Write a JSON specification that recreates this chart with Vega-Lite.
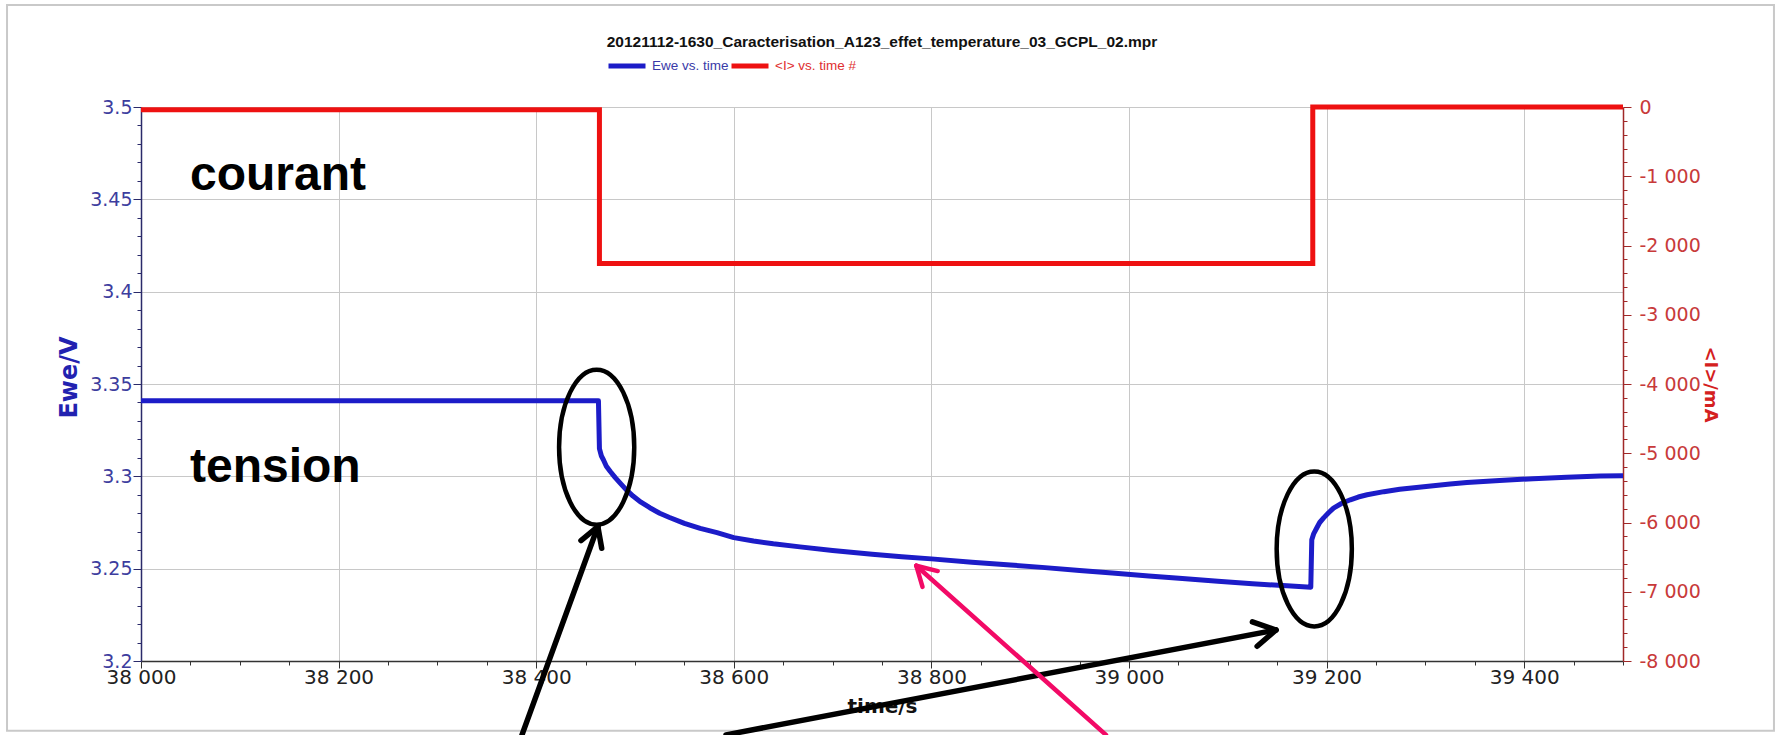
{
  "$schema": "https://vega.github.io/schema/vega-lite/v6.json",
  "autosize": "none",
  "width": 1482,
  "height": 554,
  "padding": {"left": 141, "top": 107, "right": 156, "bottom": 74},
  "background": "white",
  "title": {
    "text": "20121112-1630_Caracterisation_A123_effet_temperature_03_GCPL_02.mpr",
    "font": "Liberation Sans",
    "fontSize": 15.5,
    "fontWeight": "bold",
    "color": "#111111",
    "anchor": "middle",
    "frame": "group",
    "baseline": "alphabetic",
    "offset": -59
  },
  "config": {
    "view": {"stroke": null},
    "font": "Liberation Sans",
    "axis": {"labelFont": "DejaVu Sans", "titleFont": "DejaVu Sans"}
  },
  "datasets": {
    "ewe": [
      {"t": 38000, "v": 3.3409}, {"t": 38463, "v": 3.3409}, {"t": 38464, "v": 3.3150},
      {"t": 38466, "v": 3.3110}, {"t": 38468, "v": 3.3090}, {"t": 38471, "v": 3.3055},
      {"t": 38475, "v": 3.3026}, {"t": 38480, "v": 3.2993}, {"t": 38485, "v": 3.2963},
      {"t": 38491, "v": 3.2928}, {"t": 38498, "v": 3.2893}, {"t": 38506, "v": 3.2860},
      {"t": 38515, "v": 3.2830}, {"t": 38525, "v": 3.2800}, {"t": 38535, "v": 3.2777},
      {"t": 38550, "v": 3.2745}, {"t": 38566, "v": 3.2718}, {"t": 38583, "v": 3.2695},
      {"t": 38600, "v": 3.2668}, {"t": 38620, "v": 3.2650}, {"t": 38640, "v": 3.2635},
      {"t": 38667, "v": 3.2618}, {"t": 38700, "v": 3.2598}, {"t": 38740, "v": 3.2578},
      {"t": 38770, "v": 3.2565}, {"t": 38800, "v": 3.2553}, {"t": 38841, "v": 3.2535},
      {"t": 38880, "v": 3.2520}, {"t": 38912, "v": 3.2507}, {"t": 38950, "v": 3.2490},
      {"t": 38983, "v": 3.2476}, {"t": 39020, "v": 3.2460}, {"t": 39054, "v": 3.2447},
      {"t": 39090, "v": 3.2432}, {"t": 39125, "v": 3.2418}, {"t": 39160, "v": 3.2407},
      {"t": 39184, "v": 3.2400}, {"t": 39185, "v": 3.2656}, {"t": 39187, "v": 3.2690},
      {"t": 39190, "v": 3.2720}, {"t": 39193, "v": 3.2750}, {"t": 39197, "v": 3.2775},
      {"t": 39202, "v": 3.2803}, {"t": 39207, "v": 3.2828}, {"t": 39215, "v": 3.2853},
      {"t": 39224, "v": 3.2873}, {"t": 39232, "v": 3.2888}, {"t": 39241, "v": 3.2900},
      {"t": 39258, "v": 3.2917}, {"t": 39274, "v": 3.2930}, {"t": 39291, "v": 3.2940},
      {"t": 39308, "v": 3.2949}, {"t": 39325, "v": 3.2958}, {"t": 39342, "v": 3.2966},
      {"t": 39375, "v": 3.2978}, {"t": 39409, "v": 3.2987}, {"t": 39443, "v": 3.2995},
      {"t": 39477, "v": 3.3002}, {"t": 39500, "v": 3.3003}
    ],
    "current": [
      {"t": 38000, "i": -40}, {"t": 38464, "i": -40}, {"t": 38464, "i": -2260},
      {"t": 39186, "i": -2260}, {"t": 39186, "i": 0}, {"t": 39500, "i": 0}
    ],
    "arrows": [
      {"arrow": "A", "t": 38462.4, "v": 3.2728, "t2": 38385.6, "v2": 3.160},
      {"arrow": "A", "t": 38462.4, "v": 3.2728, "t2": 38445.3, "v2": 3.2652},
      {"arrow": "A", "t": 38462.4, "v": 3.2728, "t2": 38466.3, "v2": 3.2611},
      {"arrow": "B", "t": 39148.8, "v": 3.2168, "t2": 38592.1, "v2": 3.160},
      {"arrow": "B", "t": 39148.8, "v": 3.2168, "t2": 39124.9, "v2": 3.2212},
      {"arrow": "B", "t": 39148.8, "v": 3.2168, "t2": 39129.7, "v2": 3.2080},
      {"arrow": "C", "t": 38784.7, "v": 3.2516, "t2": 38976.7, "v2": 3.160},
      {"arrow": "C", "t": 38784.7, "v": 3.2516, "t2": 38791.0, "v2": 3.2401},
      {"arrow": "C", "t": 38784.7, "v": 3.2516, "t2": 38806.4, "v2": 3.2487}
    ],
    "ellipses": [
      {"t": 38461.2, "v": 3.3158},
      {"t": 39187.5, "v": 3.2607}
    ],
    "labels": [
      {"label": "courant", "t": 38049.6, "v": 3.4552},
      {"label": "tension", "t": 38049.6, "v": 3.2972}
    ],
    "frame": [
      {"t": 37864.4, "t2": 39652.8, "v": 3.5553, "v2": 3.1622}
    ]
  },
  "layer": [
    {
      "layer": [
        {
          "data": {"name": "frame"},
          "mark": {"type": "rect", "filled": false, "stroke": "#c9c9c9", "strokeWidth": 2},
          "encoding": {
            "x": {"field": "t", "type": "quantitative"},
            "x2": {"field": "t2"},
            "y": {"field": "v", "type": "quantitative"},
            "y2": {"field": "v2"}
          }
        },
        {
          "data": {"name": "ewe"},
          "mark": {"type": "line", "strokeWidth": 5, "strokeJoin": "round"},
          "encoding": {
            "x": {
              "field": "t", "type": "quantitative",
              "scale": {"domain": [38000, 39500], "nice": false, "zero": false},
              "axis": {
                "title": "time/s",
                "titleFontSize": 20, "titleFontWeight": "bold", "titleColor": "#111111",
                "titlePadding": 9,
                "tickCount": 200,
                "values": [38000,38050,38100,38150,38200,38250,38300,38350,38400,38450,38500,38550,38600,38650,38700,38750,38800,38850,38900,38950,39000,39050,39100,39150,39200,39250,39300,39350,39400,39450,39500],
                "labelExpr": "datum.value % 200 === 0 ? replace(format(datum.value, ','), ',', ' ') : ''",
                "labelOverlap": false,
                "labelFlush": false,
                "labelFontSize": 20,
                "labelColor": "#222222",
                "labelPadding": -1,
                "domainColor": "#333333",
                "domainWidth": 1.5,
                "tickColor": "#333333",
                "tickSize": {"condition": {"test": "datum.value % 200 === 0", "value": 7}, "value": 4},
                "grid": true,
                "gridColor": "#c8c8c8",
                "gridWidth": 1,
                "gridOpacity": {"condition": {"test": "datum.value % 200 === 0", "value": 1}, "value": 0}
              }
            },
            "y": {
              "field": "v", "type": "quantitative",
              "scale": {"domain": [3.2, 3.5], "nice": false, "zero": false},
              "axis": {
                "title": "Ewe/V",
                "titleFontSize": 24, "titleFontWeight": "bold", "titleColor": "#2222b0",
                "titlePadding": 8,
                "titleY": 270,
                "tickCount": 200,
                "values": [3.2,3.21,3.22,3.23,3.24,3.25,3.26,3.27,3.28,3.29,3.3,3.31,3.32,3.33,3.34,3.35,3.36,3.37,3.38,3.39,3.4,3.41,3.42,3.43,3.44,3.45,3.46,3.47,3.48,3.49,3.5],
                "labelExpr": "round(datum.value * 1000) % 50 === 0 ? format(datum.value, '.3~r') : ''",
                "labelOverlap": false,
                "labelFontSize": 19,
                "labelColor": "#3d3d9e",
                "labelPadding": 1,
                "domainColor": "#2a2a6a",
                "domainWidth": 1.5,
                "tickColor": "#2a2a6a",
                "tickSize": {"condition": {"test": "round(datum.value * 1000) % 50 === 0", "value": 8}, "value": 4},
                "grid": true,
                "gridColor": "#c8c8c8",
                "gridWidth": 1,
                "gridOpacity": {"condition": {"test": "round(datum.value * 1000) % 50 === 0", "value": 1}, "value": 0}
              }
            },
            "order": {"value": null},
            "color": {
              "datum": "Ewe vs. time", "type": "nominal",
              "scale": {"domain": ["Ewe vs. time", "<I> vs. time #"], "range": ["#1c1cc8", "#ee1111"]},
              "legend": {
                "title": null,
                "orient": "none",
                "direction": "horizontal",
                "legendX": 465,
                "legendY": -62,
                "symbolType": "stroke",
                "symbolSize": 1369,
                "symbolStrokeWidth": 5,
                "labelFont": "Liberation Sans",
                "labelFontSize": 13.5,
                "labelOffset": 4,
                "columnPadding": -12,
                "encode": {"labels": {"update": {"fill": {"signal": "datum.label === 'Ewe vs. time' ? '#3a3aa8' : '#e03030'"}}}}
              }
            }
          }
        },
        {
          "data": {"name": "ellipses"},
          "mark": {
            "type": "point",
            "shape": "M0,-1C0.268,-1 0.485,-0.552 0.485,0C0.485,0.552 0.268,1 0,1C-0.268,1 -0.485,0.552 -0.485,0C-0.485,-0.552 -0.268,-1 0,-1Z",
            "size": 24025,
            "filled": false,
            "stroke": "#000000",
            "strokeWidth": 4.5,
            "opacity": 1
          },
          "encoding": {
            "x": {"field": "t", "type": "quantitative"},
            "y": {"field": "v", "type": "quantitative"}
          }
        },
        {
          "data": {"name": "arrows"},
          "transform": [{"filter": "datum.arrow !== 'C'"}],
          "mark": {"type": "rule", "color": "#000000", "strokeWidth": 5.5, "strokeCap": "round"},
          "encoding": {
            "x": {"field": "t", "type": "quantitative"},
            "x2": {"field": "t2"},
            "y": {"field": "v", "type": "quantitative"},
            "y2": {"field": "v2"}
          }
        },
        {
          "data": {"name": "arrows"},
          "transform": [{"filter": "datum.arrow === 'C'"}],
          "mark": {"type": "rule", "color": "#f20a66", "strokeWidth": 4.5, "strokeCap": "round"},
          "encoding": {
            "x": {"field": "t", "type": "quantitative"},
            "x2": {"field": "t2"},
            "y": {"field": "v", "type": "quantitative"},
            "y2": {"field": "v2"}
          }
        },
        {
          "data": {"name": "labels"},
          "mark": {"type": "text", "font": "Liberation Sans", "fontSize": 48, "fontWeight": "bold", "align": "left", "baseline": "alphabetic", "color": "#000000"},
          "encoding": {
            "x": {"field": "t", "type": "quantitative"},
            "y": {"field": "v", "type": "quantitative"},
            "text": {"field": "label"}
          }
        }
      ]
    },
    {
      "data": {"name": "current"},
      "mark": {"type": "line", "strokeWidth": 5},
      "encoding": {
        "x": {"field": "t", "type": "quantitative"},
        "y": {
          "field": "i", "type": "quantitative",
          "scale": {"domain": [-8000, 0], "nice": false, "zero": false},
          "axis": {
            "orient": "right",
            "title": "<I>/mA",
            "titleFontSize": 18, "titleFontWeight": "bold", "titleColor": "#d42020",
            "titlePadding": 0,
            "tickCount": 200,
            "values": [-8000,-7800,-7600,-7400,-7200,-7000,-6800,-6600,-6400,-6200,-6000,-5800,-5600,-5400,-5200,-5000,-4800,-4600,-4400,-4200,-4000,-3800,-3600,-3400,-3200,-3000,-2800,-2600,-2400,-2200,-2000,-1800,-1600,-1400,-1200,-1000,-800,-600,-400,-200,0],
            "labelExpr": "datum.value % 1000 === 0 ? (datum.value === 0 ? '0' : '-' + replace(format(-datum.value, ','), ',', ' ')) : ''",
            "labelOverlap": false,
            "labelFontSize": 19,
            "labelColor": "#c83a3a",
            "labelPadding": 8,
            "domainColor": "#a02828",
            "domainWidth": 1.5,
            "tickColor": "#a02828",
            "tickSize": {"condition": {"test": "datum.value % 1000 === 0", "value": 8}, "value": 4},
            "grid": false
          }
        },
        "order": {"value": null},
        "color": {"datum": "<I> vs. time #", "type": "nominal"}
      }
    }
  ],
  "resolve": {"scale": {"y": "independent"}}
}
